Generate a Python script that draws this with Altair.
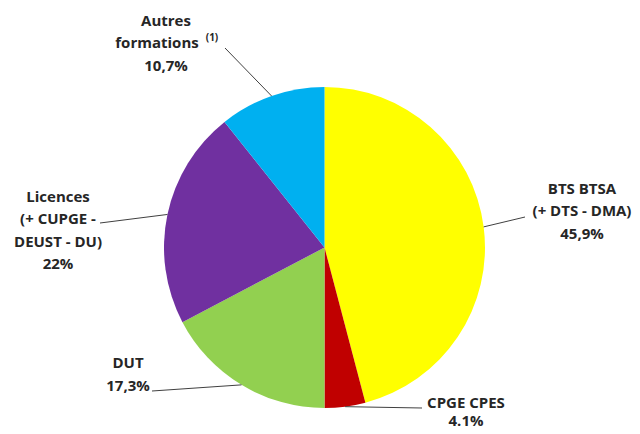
import altair as alt
import pandas as pd

# ---- data ----
categories = ["BTS BTSA (+ DTS - DMA)", "CPGE CPES", "DUT",
              "Licences (+ CUPGE - DEUST - DU)", "Autres formations"]
values = [45.9, 4.1, 17.3, 22.0, 10.7]
colors = ["#FFFF00", "#C00000", "#92D050", "#7030A0", "#00B0F0"]
label_lines = [
    ["BTS BTSA", "(+ DTS - DMA)", "45,9%"],
    ["CPGE CPES", "4.1%"],
    ["DUT", "17,3%"],
    ["Licences", "(+ CUPGE -", "DEUST - DU)", "22%"],
    ["Autres", "formations", "10,7%"],
]

# ---- layout (plot coordinates = page - 8) ----
OFF = 8
CX, CY, R = 324.5 - OFF, 247.5 - OFF, 160.5
label_x = [582, 466, 128, 58, 166]
label_y0 = [188.5, 402.5, 363, 196.5, 20.5]
line_gap = 22.5
leader_from = [(525, 217), (422, 408), (152, 391), (100, 223), (225, 48)]
TEXT_COLOR = "#262626"
FONT = "Open Sans"
FS = 15

df = pd.DataFrame({"cat": categories, "value": values, "idx": list(range(len(values)))})
df["lx"] = [p[0] - OFF for p in leader_from]
df["ly"] = [p[1] - OFF for p in leader_from]

rows = []
for i, lines in enumerate(label_lines):
    for j, t in enumerate(lines):
        x = label_x[i]
        if t == "formations":
            x = 157
        y = label_y0[i] + j * line_gap
        if t == "4.1%":
            y = 420.5
        rows.append({"t": t, "x": x - OFF, "y": y - OFF})
tdf = pd.DataFrame(rows)
sup = pd.DataFrame({"t": ["(1)"], "x": [212 - OFF], "y": [38 - OFF]})

pie = alt.Chart(df).mark_arc(outerRadius=R).encode(
    theta=alt.Theta("value:Q", stack=True),
    color=alt.Color("cat:N", scale=alt.Scale(domain=categories, range=colors), legend=None),
    order=alt.Order("idx:Q"),
    x=alt.value(CX),
    y=alt.value(CY),
)

leaders = alt.Chart(df).transform_joinaggregate(
    total="sum(value)"
).transform_window(
    cum="sum(value)", sort=[alt.SortField("idx")], frame=[None, 0]
).transform_calculate(
    mid="(datum.cum - datum.value / 2) / datum.total * 2 * PI",
).transform_calculate(
    ex=f"{CX} + {R} * sin(datum.mid)",
    ey=f"{CY} - {R} * cos(datum.mid)",
).mark_rule(color="#404040", strokeWidth=1).encode(
    x=alt.X("lx:Q", scale=None, axis=None),
    y=alt.Y("ly:Q", scale=None, axis=None),
    x2="ex:Q",
    y2="ey:Q",
)

texts = alt.Chart(tdf).mark_text(
    font=FONT, fontSize=FS, fontWeight="bold", color=TEXT_COLOR, align="center", baseline="middle"
).encode(
    x=alt.X("x:Q", scale=None, axis=None),
    y=alt.Y("y:Q", scale=None, axis=None),
    text="t:N",
)

sups = alt.Chart(sup).mark_text(
    font=FONT, fontSize=10, fontWeight="bold", color=TEXT_COLOR, align="center", baseline="middle"
).encode(
    x=alt.X("x:Q", scale=None, axis=None),
    y=alt.Y("y:Q", scale=None, axis=None),
    text="t:N",
)

chart = alt.layer(pie, leaders, texts, sups).properties(
    width=640 - 2 * OFF, height=434 - 2 * OFF, padding=0,
    autosize=alt.AutoSizeParams(type="none"),
).configure_view(stroke=None)

chart.save("out.html", embed_options={"renderer": "svg", "actions": False})
